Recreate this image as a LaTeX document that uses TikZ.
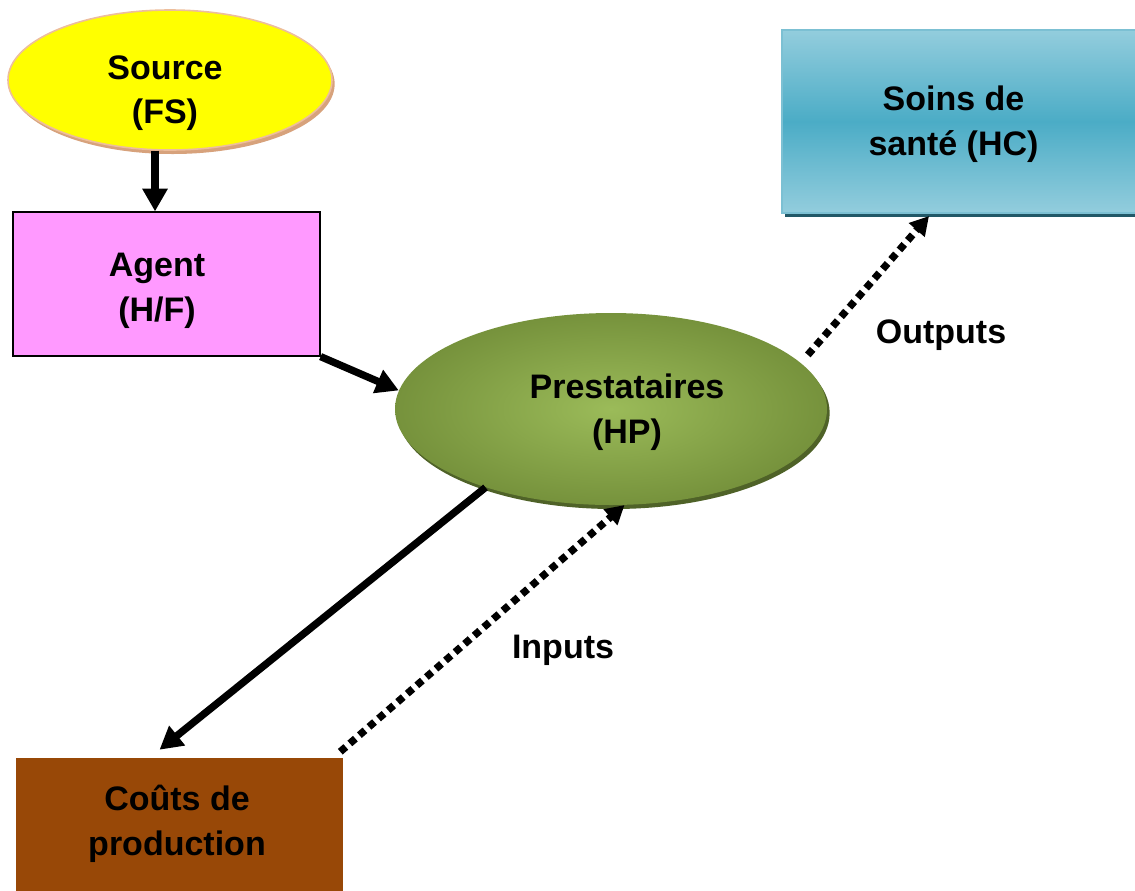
\documentclass[tikz,border=0pt]{standalone}
\usepackage{fontspec}
\setmainfont{Liberation Sans}
\usetikzlibrary{shapes.geometric,arrows.meta,calc,shadows}
\definecolor{srcfill}{HTML}{FFFF00}
\definecolor{srcedge}{HTML}{EDBE9C}
\definecolor{srcshade}{HTML}{D7A27C}
\definecolor{agentfill}{HTML}{FF99FF}
\definecolor{hpin}{HTML}{9BBB59}
\definecolor{hpout}{HTML}{76923C}
\definecolor{hpshade}{HTML}{4F6228}
\definecolor{hclight}{HTML}{93CDDD}
\definecolor{hcdark}{HTML}{4BACC6}
\definecolor{hcedge}{HTML}{7CC0D3}
\definecolor{hcshade}{HTML}{215867}
\definecolor{costfill}{HTML}{984807}
\tikzset{
  lbl/.style={font=\bfseries\fontsize{25.5}{33.5}\selectfont, align=center, inner sep=0pt},
  solidarr/.style={line width=5.5pt, -{Triangle[length=17pt,width=18pt]}},
  dotarr/.style={line width=5.5pt, dash pattern=on 5.5pt off 4pt, -{Triangle[length=14pt,width=15pt]}},
}
\begin{document}
\begin{tikzpicture}[x=0.75pt,y=-0.75pt]
\useasboundingbox (0,0) rectangle (1135,890);

% shapes
\node[ellipse, draw=srcedge, line width=1.2pt, fill=srcfill, inner sep=0pt,
      minimum width=243pt, minimum height=105pt,
      drop shadow={shadow xshift=2pt, shadow yshift=-3pt, opacity=1, fill=srcshade}]
      (src) at (170,80) {};
\node[rectangle, draw=black, line width=0.9pt, fill=agentfill, inner sep=0pt,
      minimum width=230.25pt, minimum height=108pt]
      (agent) at (166.5,284) {};
\node[ellipse, inner sep=0pt, shade, inner color=hpin, outer color=hpout,
      minimum width=324pt, minimum height=144pt,
      drop shadow={shadow xshift=2pt, shadow yshift=-3pt, opacity=1, fill=hpshade}]
      (hp) at (611,409) {};
\node[rectangle, draw=hcedge, line width=1.5pt, inner sep=0pt,
      top color=hclight, bottom color=hclight, middle color=hcdark,
      minimum width=272.25pt, minimum height=137.25pt,
      drop shadow={shadow xshift=2pt, shadow yshift=-3pt, opacity=1, fill=hcshade}]
      (hc) at (963.5,121.5) {};
\node[rectangle, fill=costfill, inner sep=0pt,
      minimum width=245.25pt, minimum height=102.75pt]
      (cost) at (179.5,826.5) {};

% texts
\node[lbl] (src-t) at (165,93) {Source\\(FS)};
\node[lbl] (agent-t) at (157,291) {Agent\\(H/F)};
\node[lbl] (hp-t) at (627,412) {Prestataires\\(HP)};
\node[lbl] (hc-t) at (953.5,124.5) {Soins de\\santé (HC)};
\node[lbl] (cost-t) at (177,824) {Coûts de\\production};
\node[lbl] (outputs) at (941,335) {Outputs};
\node[lbl] (inputs) at (563,650) {Inputs};

% connectors
\draw[solidarr] (src.258) -- (src.258 |- agent.north);
\draw[solidarr] (agent.south east) -- (hp.175);
\draw[solidarr] (hp.212) -- ($(cost.north)+(-20,-8)$);
\draw[dotarr] ($(cost.north east)+(-3,-6)$) -- (hp.278);
\draw[dotarr] ($(hp.16)+(15,-2)$) -- ($(hc.south west)+(148,2)$);
\end{tikzpicture}
\end{document}
